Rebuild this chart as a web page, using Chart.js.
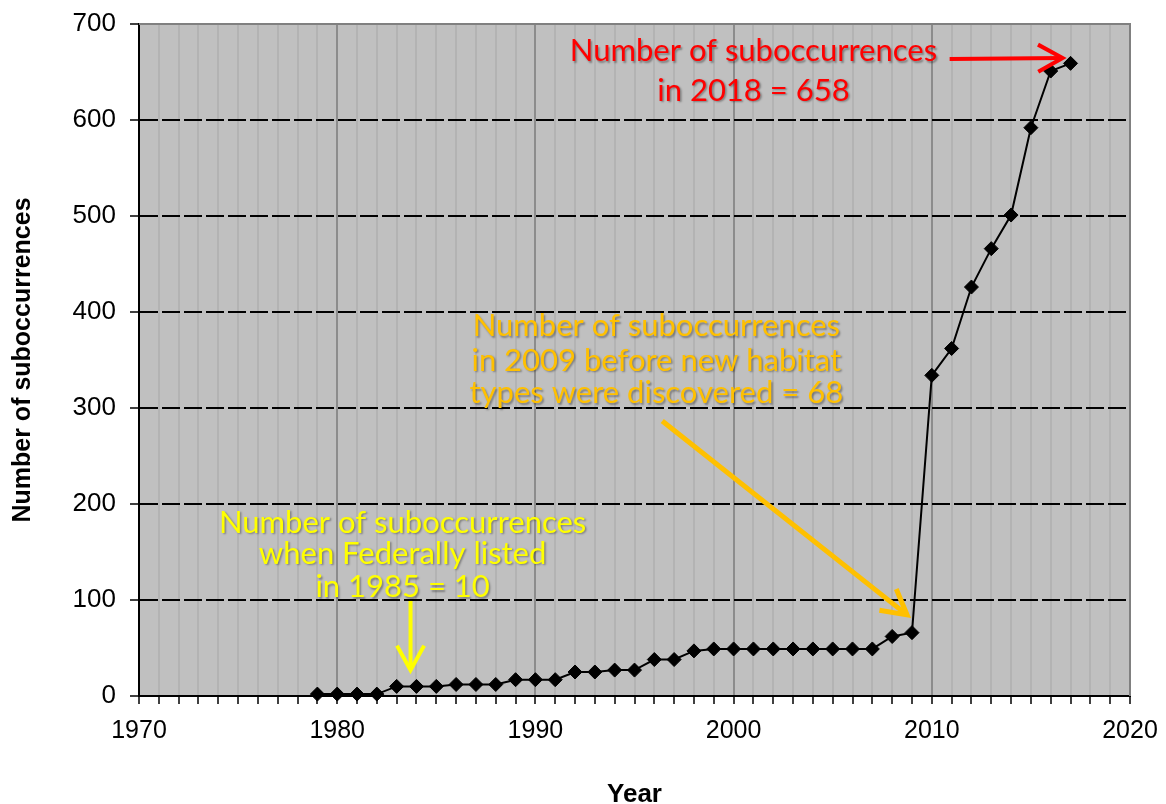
<!DOCTYPE html>
<html lang="en">
<head>
    <meta charset="UTF-8">
    <title>Number of suboccurrences by year</title>
    <style>
        html, body {
            margin: 0;
            padding: 0;
            background: #ffffff;
        }
        .chart-box {
            width: 1166px;
            height: 804px;
        }
    </style>
</head>
<body>
    <div class="chart-box">
        <canvas id="subChart"></canvas>
    </div>

    <script src="https://cdn.jsdelivr.net/npm/chart.js"></script>
    <script>
        // Data
        const years = [1979, 1980, 1981, 1982, 1983, 1984, 1985, 1986, 1987, 1988,
                       1989, 1990, 1991, 1992, 1993, 1994, 1995, 1996, 1997, 1998,
                       1999, 2000, 2001, 2002, 2003, 2004, 2005, 2006, 2007, 2008,
                       2009, 2010, 2011, 2012, 2013, 2014, 2015, 2016, 2017];
        const counts = [2, 2, 2, 2, 10, 10, 10, 12, 12, 12,
                        17, 17, 17, 25, 25, 27, 27, 38, 38, 47,
                        49, 49, 49, 49, 49, 49, 49, 49, 49, 62,
                        66, 334, 362, 426, 466, 501, 592, 651, 659];
        const xTickYears = [1970, 1980, 1990, 2000, 2010, 2020];
        const yTickValues = [0, 100, 200, 300, 400, 500, 600, 700];

        // Callout texts and arrows, placed in data coordinates (year, count)
        const notes = [
            {
                color: '#ff0000',
                x: 2001,
                lines: [[661, 'Number of suboccurrences'], [620, 'in 2018 = 658']],
                arrow: { from: [2010.9, 663.5], to: [2016.6, 664.6], width: 4 }
            },
            {
                color: '#ffc000',
                x: 1996.1,
                lines: [[375, 'Number of suboccurrences'],
                        [339, 'in 2009 before new habitat'],
                        [305, 'types were discovered = 68']],
                arrow: { from: [1996.4, 286.5], to: [2008.75, 84.5], width: 5 }
            },
            {
                color: '#ffff00',
                x: 1983.3,
                lines: [[170, 'Number of suboccurrences'],
                        [138, 'when Federally listed'],
                        [103, 'in 1985 = 10']],
                arrow: { from: [1983.7, 99], to: [1983.7, 27], width: 4 }
            }
        ];

        const points = years.map((y, i) => ({ x: y, y: counts[i] }));

        // grey plot background and the grey top/right frame
        const plotFrame = {
            id: 'plotFrame',
            beforeDraw(chart) {
                const { ctx, chartArea: a } = chart;
                ctx.save();
                ctx.fillStyle = '#c0c0c0';
                ctx.fillRect(a.left, a.top, a.right - a.left, a.bottom - a.top);
                ctx.restore();
            },
            beforeDatasetsDraw(chart) {
                const { ctx, chartArea: a } = chart;
                ctx.save();
                ctx.strokeStyle = '#808080';
                ctx.lineWidth = 2;
                ctx.beginPath();
                ctx.moveTo(a.left, a.top);
                ctx.lineTo(a.right, a.top);
                ctx.lineTo(a.right, a.bottom);
                ctx.stroke();
                ctx.restore();
            }
        };

        function drawArrow(ctx, x1, y1, x2, y2, width, color) {
            const ang = Math.atan2(y2 - y1, x2 - x1);
            const len = 28, spread = Math.PI / 6.2;
            ctx.strokeStyle = color;
            ctx.lineWidth = width;
            ctx.lineCap = 'butt';
            ctx.beginPath();
            ctx.moveTo(x1, y1);
            ctx.lineTo(x2, y2);
            ctx.stroke();
            ctx.beginPath();
            ctx.moveTo(x2 - len * Math.cos(ang - spread), y2 - len * Math.sin(ang - spread));
            ctx.lineTo(x2, y2);
            ctx.lineTo(x2 - len * Math.cos(ang + spread), y2 - len * Math.sin(ang + spread));
            ctx.stroke();
        }

        const callouts = {
            id: 'callouts',
            afterDatasetsDraw(chart) {
                const { ctx, scales: { x, y } } = chart;
                ctx.save();
                // size the Calibri-like text so the long line is ~372px wide
                ctx.font = '100px Lato, "Open Sans", sans-serif';
                const w = ctx.measureText('Number of suboccurrences').width;
                const size = Math.round(100 * 372 / w);
                ctx.font = size + 'px Lato, "Open Sans", sans-serif';
                ctx.textAlign = 'center';
                ctx.textBaseline = 'alphabetic';

                notes.forEach(n => {
                    ctx.save();
                    ctx.shadowColor = 'rgba(0, 0, 0, 0.35)';
                    ctx.shadowBlur = 2;
                    ctx.shadowOffsetX = 1.5;
                    ctx.shadowOffsetY = 1.5;
                    ctx.fillStyle = n.color;
                    n.lines.forEach(([val, text]) => {
                        ctx.fillText(text, x.getPixelForValue(n.x), y.getPixelForValue(val));
                    });
                    ctx.restore();

                    const a = n.arrow;
                    drawArrow(ctx,
                        x.getPixelForValue(a.from[0]), y.getPixelForValue(a.from[1]),
                        x.getPixelForValue(a.to[0]), y.getPixelForValue(a.to[1]),
                        a.width, n.color);
                });
                ctx.restore();
            }
        };

        const ctx = document.getElementById('subChart').getContext('2d');
        new Chart(ctx, {
            type: 'line',
            data: {
                datasets: [{
                    label: 'Suboccurrences',
                    data: points,
                    borderColor: '#000000',
                    borderWidth: 2,
                    tension: 0,
                    pointStyle: 'rectRot',
                    pointRadius: 7,
                    pointBackgroundColor: '#000000',
                    pointBorderColor: '#000000',
                    pointBorderWidth: 1,
                    clip: false
                }]
            },
            options: {
                responsive: true,
                maintainAspectRatio: false,
                animation: false,
                layout: { padding: { top: 24, right: 36, bottom: 0, left: 0 } },
                plugins: {
                    legend: { display: false },
                    tooltip: { enabled: false }
                },
                scales: {
                    x: {
                        type: 'linear',
                        min: xTickYears[0],
                        max: xTickYears[xTickYears.length - 1],
                        // fixed band below the plot, no extra edge padding
                        afterFit: scale => {
                            scale.height = 108;
                            scale.paddingLeft = 0;
                            scale.paddingRight = 0;
                        },
                        ticks: {
                            stepSize: 1,
                            autoSkip: false,
                            maxRotation: 0,
                            color: '#000000',
                            padding: 12,
                            font: { family: 'Arial, "Liberation Sans", sans-serif', size: 25 },
                            callback: v => xTickYears.includes(v) ? String(v) : ''
                        },
                        grid: {
                            color: c => {
                                const v = c.tick ? c.tick.value : 0;
                                if (v === xTickYears[0]) return 'rgba(0,0,0,0)';
                                return v % 10 === 0 ? '#8c8c8c' : '#b3b3b3';
                            },
                            lineWidth: 2,
                            tickColor: '#000000',
                            tickWidth: 1.5,
                            tickLength: 8
                        },
                        border: { color: '#000000', width: 2 },
                        title: {
                            display: true,
                            text: 'Year',
                            color: '#000000',
                            font: { family: 'Arial, "Liberation Sans", sans-serif', size: 26, weight: 'bold' },
                            padding: { top: 0, bottom: -6 }
                        }
                    },
                    y: {
                        min: yTickValues[0],
                        max: yTickValues[yTickValues.length - 1],
                        afterFit: scale => {
                            scale.width = 139;
                            scale.paddingTop = 0;
                            scale.paddingBottom = 0;
                        },
                        ticks: {
                            stepSize: yTickValues[1] - yTickValues[0],
                            color: '#000000',
                            padding: 14,
                            font: { family: 'Arial, "Liberation Sans", sans-serif', size: 26 }
                        },
                        grid: {
                            color: c => (c.tick && c.tick.value === yTickValues[yTickValues.length - 1]) ? 'rgba(0,0,0,0)' : '#000000',
                            lineWidth: 2,
                            tickColor: '#000000',
                            tickWidth: 1.5,
                            tickLength: 9
                        },
                        border: { color: '#000000', width: 2, dash: [18, 4] },
                        title: {
                            display: true,
                            text: 'Number of suboccurrences',
                            color: '#000000',
                            font: { family: 'Arial, "Liberation Sans", sans-serif', size: 25, weight: 'bold' },
                            padding: { top: 8, bottom: 0 }
                        }
                    }
                }
            },
            plugins: [plotFrame, callouts]
        });
    </script>
</body>
</html>
